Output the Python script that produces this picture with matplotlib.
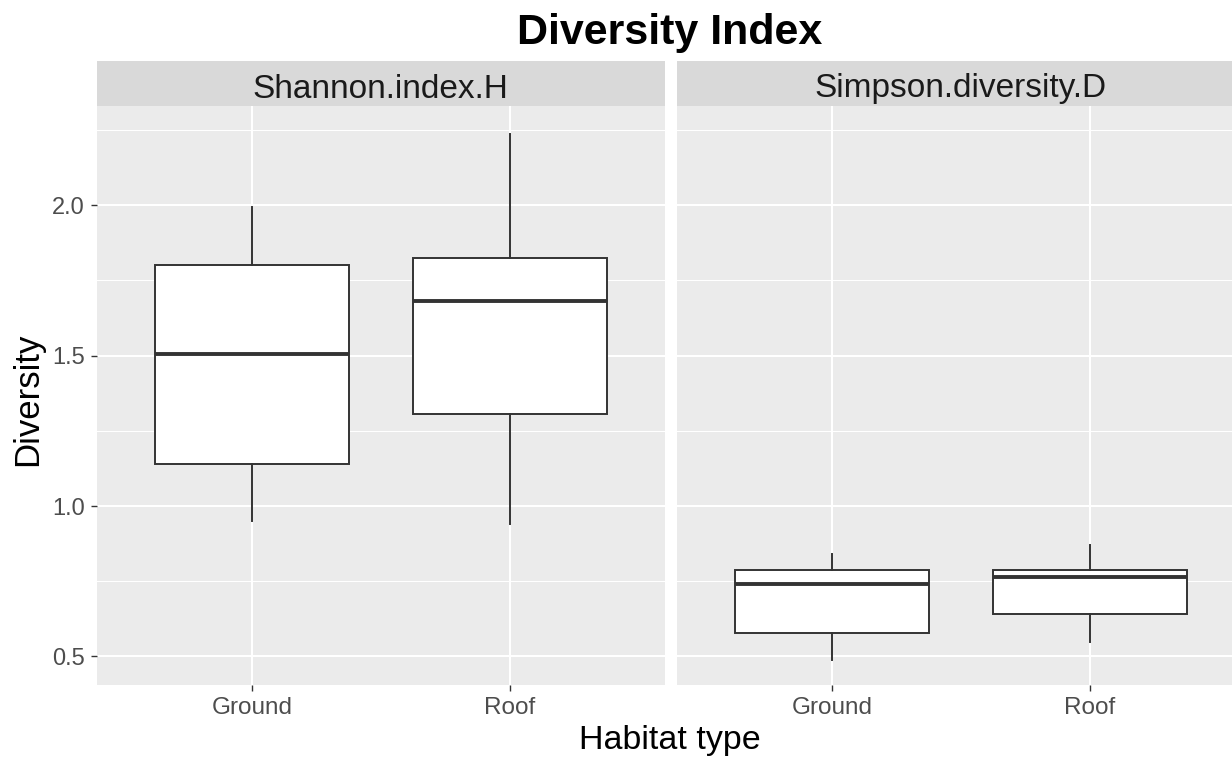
import matplotlib
matplotlib.use("Agg")
import matplotlib.pyplot as plt
from matplotlib.ticker import MultipleLocator

plt.rcParams['font.family'] = ['Liberation Sans', 'DejaVu Sans']

habitats = ["Ground", "Roof"]
panels = ["Shannon.index.H", "Simpson.diversity.D"]

# five-number summaries: low whisker, q1, median, q3, high whisker
shannon_whislo = [0.951, 0.939]
shannon_q1 = [1.139, 1.307]
shannon_med = [1.504, 1.683]
shannon_q3 = [1.800, 1.826]
shannon_whishi = [1.994, 2.238]

simpson_whislo = [0.489, 0.548]
simpson_q1 = [0.579, 0.642]
simpson_med = [0.741, 0.763]
simpson_q3 = [0.789, 0.789]
simpson_whishi = [0.839, 0.872]

panel_data = [
    (shannon_whislo, shannon_q1, shannon_med, shannon_q3, shannon_whishi),
    (simpson_whislo, simpson_q1, simpson_med, simpson_q3, simpson_whishi),
]

W, H = 1232, 762
fig = plt.figure(figsize=(W / 100, H / 100), dpi=100)
fig.patch.set_facecolor("white")

# panel boxes in pixels (left, right)
panel_px = [(97, 665), (677, 1232)]
top_px, bottom_px = 106, 685
strip_top = 61
unit_px = 258.0

line_col = "#333333"
for i, (x0, x1) in enumerate(panel_px):
    ax = fig.add_axes([x0 / W, 1 - bottom_px / H, (x1 - x0) / W, (bottom_px - top_px) / H])
    ax.set_facecolor("#EBEBEB")
    lo, q1, med, q3, hi = panel_data[i]
    stats = []
    for k, name in enumerate(habitats):
        stats.append(dict(label=name, whislo=lo[k], q1=q1[k], med=med[k], q3=q3[k], whishi=hi[k], fliers=[]))
    ax.bxp(stats, positions=[1, 2], widths=0.75, patch_artist=True, showcaps=False,
           boxprops=dict(facecolor="white", edgecolor=line_col, linewidth=1.4),
           whiskerprops=dict(color=line_col, linewidth=1.4),
           medianprops=dict(color=line_col, linewidth=2.8),
           zorder=3)
    ax.set_xlim(0.4, 0.4 + (x1 - x0) / unit_px)
    ax.set_ylim(0.405, 2.33)
    ax.yaxis.set_major_locator(MultipleLocator(0.5))
    ax.yaxis.set_minor_locator(MultipleLocator(0.25))
    ax.grid(True, which="major", color="white", linewidth=1.5, zorder=0)
    ax.grid(True, which="minor", axis="y", color="white", linewidth=0.75, zorder=0)
    ax.set_axisbelow(True)
    for s in ax.spines.values():
        s.set_visible(False)
    ax.set_xticks([1, 2])
    ax.set_xticklabels(habitats, fontsize=17.5, color="#4D4D4D")
    ax.tick_params(axis="both", which="major", length=4, color=line_col, width=1, pad=5)
    ax.tick_params(axis="y", which="minor", length=0)
    if i == 0:
        ax.set_yticklabels([f"{v:.1f}" for v in ax.get_yticks()], fontsize=17, color="#4D4D4D")
    else:
        ax.tick_params(axis="y", which="major", length=0, labelleft=False)

    # facet strip
    sax = fig.add_axes([x0 / W, 1 - top_px / H, (x1 - x0) / W, (top_px - strip_top) / H])
    sax.set_facecolor("#D9D9D9")
    sax.set_xticks([])
    sax.set_yticks([])
    for s in sax.spines.values():
        s.set_visible(False)
    # centre over the full (uncropped) panel width
    cx = (x0 + x0 + 2.2 * unit_px) / 2
    fig.text(cx / W, 1 - 97.5 / H, panels[i], ha="center", va="baseline", fontsize=24,
             color="#1A1A1A")

fig.text(670 / W, 1 - 44 / H, "Diversity Index", ha="center", va="baseline",
         fontsize=31, fontweight="bold", color="black")
fig.text(670 / W, 1 - 749 / H, "Habitat type", ha="center", va="baseline",
         fontsize=24.5, color="black")
fig.text(28 / W, 1 - 399 / H, "Diversity", ha="center", va="center", rotation=90,
         fontsize=25, color="black")

fig.savefig("out.png", dpi=100)
